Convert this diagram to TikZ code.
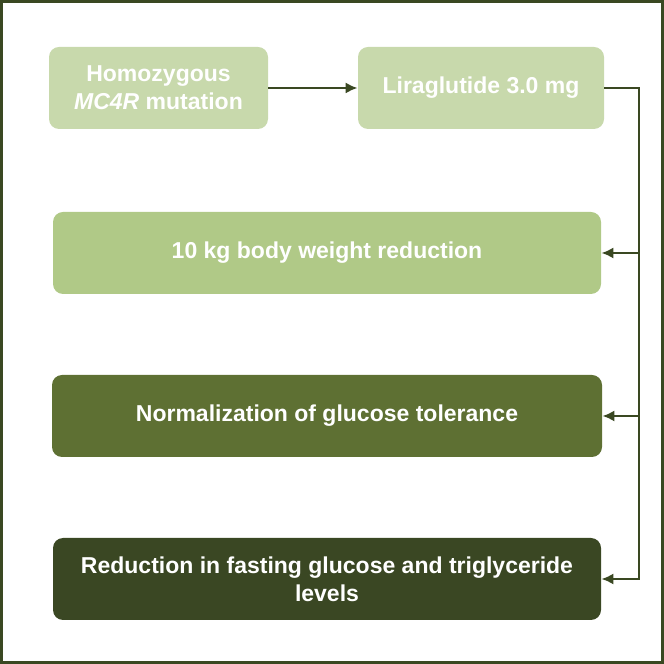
\documentclass[tikz,border=0pt]{standalone}
\usepackage{fontspec}
\setmainfont{Liberation Sans}
\usetikzlibrary{arrows.meta,calc}
\definecolor{boxpale}  {RGB}{200,217,172}
\definecolor{boxmid}   {RGB}{176,201,135}
\definecolor{boxdark}  {RGB}{ 94,112, 51}
\definecolor{boxdeep}  {RGB}{ 58, 71, 35}
\definecolor{linecol}  {RGB}{ 58, 72, 34}
\tikzset{
  %% Rounded card with white bold text
  stepcard/.style={
    rounded corners=5pt, text=white, align=center,
    font=\bfseries\fontsize{11.5}{14}\selectfont,
    inner sep=0pt, minimum height=41pt
  },
  frame/.style={draw=linecol, line width=1.5pt},
  flowline/.style={draw=linecol, line width=1.3pt},
  flowarrow/.style={flowline, -{Latex[length=6pt,width=5.6pt]}},
}

\begin{document}
\begin{tikzpicture}[x=0.5pt, y=0.5pt, line join=miter]

  %% ── Layout constants ──────────────────────────────────────────────────
  \def\CX{327}     % centre of the wide cards
  \def\TY{576}     % top row height
  \def\TX{639}     % x of the vertical trunk

  \useasboundingbox (0,0) rectangle (664,664);
  \draw[frame] (1.5,1.5) rectangle (662.5,662.5);

  %% ══════════════════════════════════════════════════════════════════════
  %%  TOP ROW
  %% ══════════════════════════════════════════════════════════════════════
  \node[stepcard, fill=boxpale, minimum width=109.5pt] (mutation)
        at (158.5,\TY) {Homozygous\\\textit{MC4R} mutation};
  \node[stepcard, fill=boxpale, minimum width=123pt] (drug)
        at (481,\TY) {Liraglutide 3.0 mg};

  \draw[flowarrow] (mutation.east) -- (drug.west);

  %% ══════════════════════════════════════════════════════════════════════
  %%  OUTCOMES
  %% ══════════════════════════════════════════════════════════════════════
  \node[stepcard, fill=boxmid, minimum width=274pt] (weight)
        at (\CX,411) {10 kg body weight reduction};
  \node[stepcard, fill=boxdark, minimum width=275pt] (tolerance)
        at (\CX,248) {Normalization of glucose tolerance};
  \node[stepcard, fill=boxdeep, minimum width=274pt] (lipids)
        at (\CX,85) {Reduction in fasting glucose and triglyceride\\levels};

  %% ── Trunk and branches ────────────────────────────────────────────────
  \coordinate (trunk) at (\TX,\TY);
  \draw[flowarrow] (drug.east) -- (trunk) |- (lipids.east);
  \draw[flowarrow] (trunk |- weight.east) -- (weight.east);
  \draw[flowarrow] (trunk |- tolerance.east) -- (tolerance.east);

\end{tikzpicture}
\end{document}
